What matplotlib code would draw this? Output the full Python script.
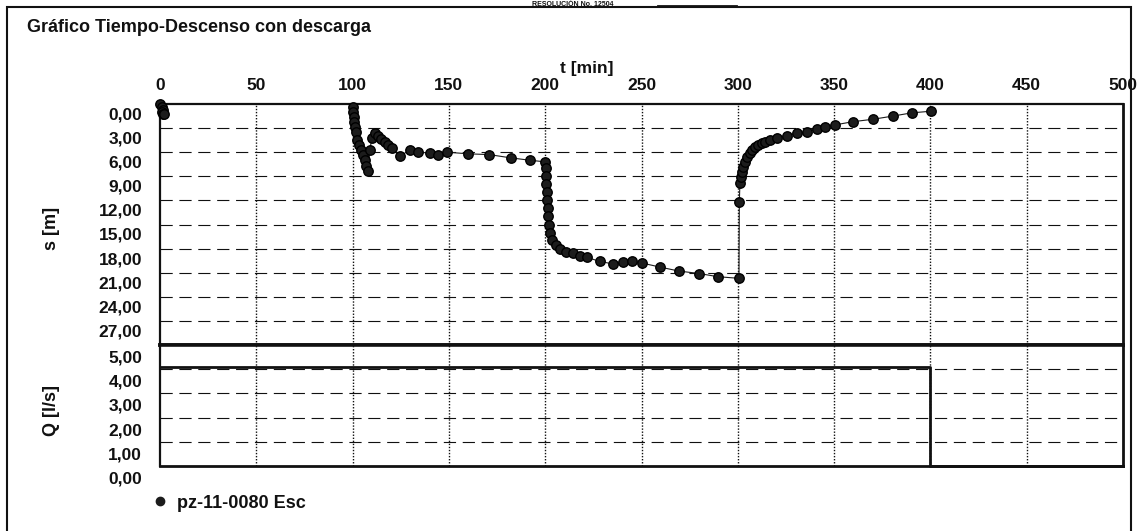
import matplotlib
matplotlib.use("Agg")
import matplotlib.pyplot as plt
import matplotlib.transforms as mtransforms
from matplotlib.lines import Line2D
from matplotlib.patches import Rectangle

plt.rcParams["font.family"] = ["Liberation Sans", "DejaVu Sans"]
plt.rcParams["font.weight"] = "bold"

# first short pumping at t ~ 0
t_ini = [0.0, 1.0, 1.5, 1.0, 1.5, 2.0]
s_ini = [0.0, 0.4, 0.7, 1.0, 1.2, 1.3]

# main record: step 2, step 3 and recovery
t_obs = [100.0, 100.2, 100.5, 100.8, 101.2, 101.6, 102.2, 103.2, 104.2, 105.2,
         106.2, 107.2, 108.0, 109.0, 110.0, 111.6, 113.2, 115.0, 116.8, 118.4,
         120.5, 124.6, 129.8, 134.0, 140.2, 144.3, 149.0, 160.0, 171.0, 182.0,
         192.0, 200.0, 200.2, 200.4, 200.6, 200.8, 201.0, 201.3, 201.6, 202.0,
         202.5, 203.4, 205.6, 207.7, 210.8, 214.4, 218.0, 221.7, 228.5, 235.0,
         240.4, 245.0, 250.3, 259.6, 269.5, 279.9, 289.7, 300.6, 300.8, 301.1,
         301.7, 302.2, 302.7, 303.7, 304.8, 306.3, 307.4, 308.9, 310.5, 312.6,
         314.1, 316.7, 320.3, 325.5, 330.7, 335.9, 341.1, 345.3, 350.5, 359.8,
         370.2, 380.6, 390.4, 400.3]
s_obs = [0.4, 1.0, 1.6, 2.2, 2.9, 3.5, 4.5, 5.1, 5.7, 6.3,
         7.0, 7.7, 8.3, 5.7, 4.2, 3.6, 4.0, 4.4, 4.7, 5.1,
         5.5, 6.5, 5.7, 6.0, 6.1, 6.3, 6.0, 6.2, 6.3, 6.7,
         7.0, 7.2, 8.0, 9.0, 10.0, 11.0, 12.0, 13.0, 14.0, 15.0,
         16.0, 16.9, 17.6, 18.1, 18.4, 18.6, 18.9, 19.1, 19.6, 19.9,
         19.7, 19.6, 19.8, 20.3, 20.8, 21.1, 21.5, 21.7, 12.2, 9.8,
         9.1, 8.5, 7.8, 7.2, 6.6, 6.1, 5.7, 5.3, 5.1, 4.9,
         4.7, 4.5, 4.2, 4.0, 3.6, 3.5, 3.1, 2.9, 2.6, 2.2,
         1.9, 1.5, 1.1, 0.9]

# discharge
t_q = [0, 400, 400, 500]
q_val = [4.1, 4.1, 0.0, 0.0]

x_ticks = [0, 50, 100, 150, 200, 250, 300, 350, 400, 450, 500]
s_ticks = [0, 3, 6, 9, 12, 15, 18, 21, 24, 27]
q_ticks = [0, 1, 2, 3, 4, 5]

W, H = 1137, 531
fig = plt.figure(figsize=(W / 100, H / 100), dpi=100)
ink = "#111111"
fs = 12.5

ax = fig.add_axes([160 / W, 1 - 345 / H, 963 / W, 241 / H])
axq = fig.add_axes([160 / W, 1 - 466 / H, 963 / W, 121 / H])

dash = (0, (11, 6))
dots = (0, (1, 1.2))

for a in (ax, axq):
    a.set_xlim(0, 500)
    for x in x_ticks[1:-1]:
        a.axvline(x, color=ink, lw=1.0, ls=dots, zorder=1)
    for side in ("left", "right", "top", "bottom"):
        a.spines[side].set_color(ink)
    a.set_yticks([])

ax.set_ylim(30, 0)
for s in s_ticks[1:]:
    ax.axhline(s, color=ink, lw=0.8, ls=dash, zorder=1)
axq.set_ylim(0, 5)
for q in q_ticks[1:-1]:
    axq.axhline(q, color=ink, lw=0.8, ls=dash, zorder=1)

ax.spines["top"].set_linewidth(1.6)
ax.spines["left"].set_linewidth(1.6)
ax.spines["right"].set_linewidth(2.0)
ax.spines["bottom"].set_linewidth(2.6)
axq.spines["top"].set_linewidth(2.6)
axq.spines["left"].set_linewidth(1.6)
axq.spines["right"].set_linewidth(2.0)
axq.spines["bottom"].set_linewidth(2.0)

ax.xaxis.tick_top()
ax.set_xticks(x_ticks)
ax.set_xticklabels([str(x) for x in x_ticks])
ax.tick_params(axis="x", length=0, pad=8, labelsize=fs, colors=ink)
axq.set_xticks([])

# y labels sit a bit below their grid lines
tr = mtransforms.blended_transform_factory(ax.transAxes, ax.transData)
off = mtransforms.ScaledTranslation(-0.18, -0.11, fig.dpi_scale_trans)
for s in s_ticks:
    ax.text(0, s, f"{s:.2f}".replace(".", ","), transform=tr + off,
            ha="right", va="center", fontsize=fs, color=ink, clip_on=False)
trq = mtransforms.blended_transform_factory(axq.transAxes, axq.transData)
offq = mtransforms.ScaledTranslation(-0.18, -0.13, fig.dpi_scale_trans)
for q in q_ticks:
    axq.text(0, q, f"{q:.2f}".replace(".", ","), transform=trq + offq,
             ha="right", va="center", fontsize=fs, color=ink, clip_on=False)

mk = dict(marker="o", ms=6.8, color="#1c1c1c", mec="#000000", lw=0.8,
          clip_on=False, zorder=4)
ax.plot(t_ini, s_ini, **mk)
ax.plot(t_obs, s_obs, **mk)

axq.plot(t_q, q_val, color=ink, lw=2.0, clip_on=False, zorder=4)

fig.text(52 / W, 1 - 228 / H, "s [m]", rotation=90, ha="center", va="center",
         fontsize=fs + 0.5, color=ink)
fig.text(52 / W, 1 - 410 / H, "Q [l/s]", rotation=90, ha="center", va="center",
         fontsize=fs + 0.5, color=ink)
fig.text(587 / W, 1 - 68 / H, "t [min]", ha="center", va="center",
         fontsize=fs, color=ink)
fig.text(27 / W, 1 - 28 / H, "Gráfico Tiempo-Descenso con descarga",
         ha="left", va="center", fontsize=fs + 0.5, color=ink)

# legend
fig.legend(handles=[Line2D([], [], ls="none", marker="o", ms=6,
                           color="#1c1c1c", label="pz-11-0080 Esc")],
           loc="center left", bbox_to_anchor=(135 / W, 1 - 503 / H),
           frameon=False, handlelength=1.0, handletextpad=0.4,
           prop=dict(size=fs + 0.5, weight="bold"), labelcolor=ink)

# page frame and header strip of the scanned sheet
fig.add_artist(Rectangle((7 / W, -0.05), (1131 - 7) / W, 1.05 - 7 / H,
                         transform=fig.transFigure, fill=False, lw=1.5,
                         edgecolor=ink))
fig.text(573 / W, 1 - 0.5 / H, "RESOLUCIÓN No. 12504", ha="center",
         va="top", fontsize=5, color=ink)
fig.add_artist(Line2D([658 / W, 736 / W], [1 - 6 / H, 1 - 6 / H],
                      transform=fig.transFigure, color=ink, lw=2.0))

fig.savefig("out.png", dpi=100)
